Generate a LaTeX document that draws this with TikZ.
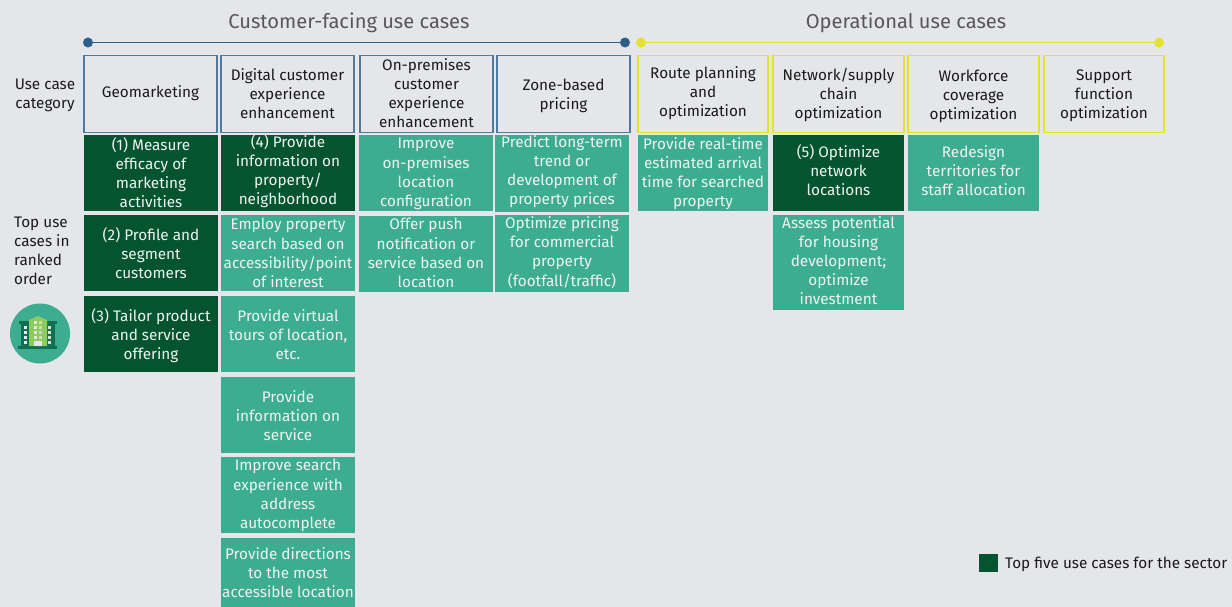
\documentclass[tikz,border=0pt]{standalone}
\usepackage{fontspec}
\setmainfont{Fira Sans}
\definecolor{bgc}{HTML}{E4E6E9}
\definecolor{darkg}{HTML}{04552F}
\definecolor{teal1}{HTML}{3CAD90}
\definecolor{blue1}{HTML}{4F7A9F}
\definecolor{dotblue}{HTML}{2C5F8A}
\definecolor{yell1}{HTML}{E3E32E}
\definecolor{gray1}{HTML}{575757}
\definecolor{txt}{HTML}{1A1A1A}
\definecolor{wtxt}{HTML}{F0F4F0}
\definecolor{bldg}{HTML}{12704E}
\definecolor{lime1}{HTML}{8CCB5E}
\tikzset{
  x=1pt,y=-1pt,
  base/.style={anchor=north west,inner sep=0pt,outer sep=0pt},
  headb/.style={base,draw=blue1,line width=1.2pt},
  heady/.style={base,draw=yell1,line width=1.2pt},
  topc/.style={base,fill=darkg},
  usec/.style={base,fill=teal1},
  lab/.style={inner sep=0pt,align=center,font=\fontsize{15.3}{19.1}\selectfont},
  headbt/.style={lab,text=txt},
  headyt/.style={lab,text=txt},
  topct/.style={lab,text=wtxt},
  usect/.style={lab,text=wtxt},
  side/.style={inner sep=0pt,text=txt,font=\fontsize{15.3}{19}\selectfont},
  grp/.style={inner sep=0pt,text=gray1,font=\fontsize{20.1}{24}\selectfont},
  dotb/.style={circle,fill=dotblue,minimum size=10pt,inner sep=0pt},
  doty/.style={circle,fill=yell1,minimum size=10pt,inner sep=0pt},
}
% style, name, corner, width, height, text, upward shift of the text
\newcommand{\bx}[7]{\node[#1,minimum width=#4pt,minimum height=#5pt] (#2) at #3 {};
  \node[#1t,yshift=#7pt] (#2t) at (#2.center) {#6};}
\begin{document}
\begin{tikzpicture}
\fill[bgc] (0,0) rectangle (1232,607);
\useasboundingbox (0,0) rectangle (1232,607);
\node[grp] (g1) at (349,23) {Customer-facing use cases};
\node[grp] (g2) at (906,23) {Operational use cases};
\node[dotb] (b1) at (88,42.5) {};
\node[dotb] (b2) at (625,42.5) {};
\node[doty] (y1) at (641,42.5) {};
\node[doty] (y2) at (1159,42.5) {};
\draw[dotblue,line width=1.1pt] (b1) -- (b2);
\draw[yell1,line width=1.1pt] (y1) -- (y2);
\node[side,align=center] (l1) at (45,95.5) {Use case\\category};
\node[side,align=left,anchor=north west] (l2) at (14,217) {Top use\\cases in\\ranked\\order};

\bx{headb}{h1}{(84,55.5)}{133}{77}{Geomarketing}{1}
\bx{headb}{h2}{(221,55.5)}{133}{77}{Digital customer\\experience\\enhancement}{0}
\bx{headb}{h3}{(360,55.5)}{133}{77}{On-premises\\customer\\experience\\enhancement}{1}
\bx{headb}{h4}{(497,55.5)}{133}{77}{Zone-based\\pricing}{-2}
\bx{heady}{h5}{(638,55.5)}{130}{77}{Route planning\\and\\optimization}{0.5}
\bx{heady}{h6}{(773,55.5)}{131}{77}{Network/supply\\chain\\optimization}{-1}
\bx{heady}{h7}{(908,55.5)}{131}{77}{Workforce\\coverage\\optimization}{-2.5}
\bx{heady}{h8}{(1044,55.5)}{120}{77}{Support\\function\\optimization}{-2}

\bx{topc}{a1}{(84,135)}{134}{76}{(1) Measure\\efficacy of\\marketing\\activities}{0.5}
\bx{topc}{a2}{(84,215)}{134}{76}{(2) Profile and\\segment\\customers}{-0.5}
\bx{topc}{a3}{(84,296)}{134}{76}{(3) Tailor product\\and service\\offering}{-2}
\bx{topc}{b1x}{(221,135)}{134}{76}{(4) Provide\\information on\\property/\\neighborhood}{1.5}
\bx{usec}{b2x}{(221,215)}{134}{76}{Employ property\\search based on\\accessibility/point\\of interest}{0}
\bx{usec}{b3x}{(221,296)}{134}{76}{Provide virtual\\tours of location,\\etc.}{-1}
\bx{usec}{b4x}{(221,377)}{134}{76}{Provide\\information on\\service}{-1}
\bx{usec}{b5x}{(221,457)}{134}{76}{Improve search\\experience with\\address\\autocomplete}{-0.5}
\bx{usec}{b6x}{(221,538)}{134}{69}{Provide directions\\to the most\\accessible location}{-0.5}
\bx{usec}{c1}{(359,135)}{134}{76}{Improve\\on-premises\\location\\configuration}{-1}
\bx{usec}{c2}{(359,216)}{134}{76}{Offer push\\notification or\\service based on\\location}{1}
\bx{usec}{d1}{(495,135)}{134}{77}{Predict long-term\\trend or\\development of\\property prices}{2}
\bx{usec}{d2}{(495,215)}{134}{77}{Optimize pricing\\for commercial\\property\\(footfall/traffic)}{1}
\bx{usec}{e1}{(638,135)}{130}{76}{Provide real-time\\estimated arrival\\time for searched\\property}{-1}
\bx{topc}{f1}{(773,135)}{131}{76}{(5) Optimize\\network\\locations}{3}
\bx{usec}{f2}{(773,215)}{131}{95}{Assess potential\\for housing\\development;\\optimize\\investment}{2}
\bx{usec}{g1x}{(908,135)}{131}{76}{Redesign\\territories for\\staff allocation}{2}

\node[base,fill=darkg,minimum width=19pt,minimum height=18pt] (key) at (979,554) {};
\node[side,anchor=west] (keyt) at (1005,564) {Top five use cases for the sector};

% icon
\node[circle,fill=teal1,minimum size=60pt,inner sep=0pt] (ic) at (40,333.5) {};
\fill[bldg] (19,321) rectangle (57,324);
\fill[bldg] (18,346) rectangle (57,349);
\fill[bldg] (21,324) rectangle (55,346);
\fill[lime1] (29,320) -- (38,316) -- (47,320) -- (47,346) -- (29,346) -- cycle;
\fill[bgc] (34,341) rectangle (42,346);
\foreach \yy in {326,331,336,341}{
  \fill[bgc] (24,\yy) rectangle (27,\yy+2.6);
  \fill[bgc!85!lime1] (48,\yy) rectangle (51,\yy+2.6);
}
\foreach \yy in {321,326,331,336}{
  \fill[bgc] (34,\yy) rectangle (37,\yy+2.6);
  \fill[bgc!70!lime1] (39,\yy) rectangle (42,\yy+2.6);
}
\end{tikzpicture}
\end{document}
